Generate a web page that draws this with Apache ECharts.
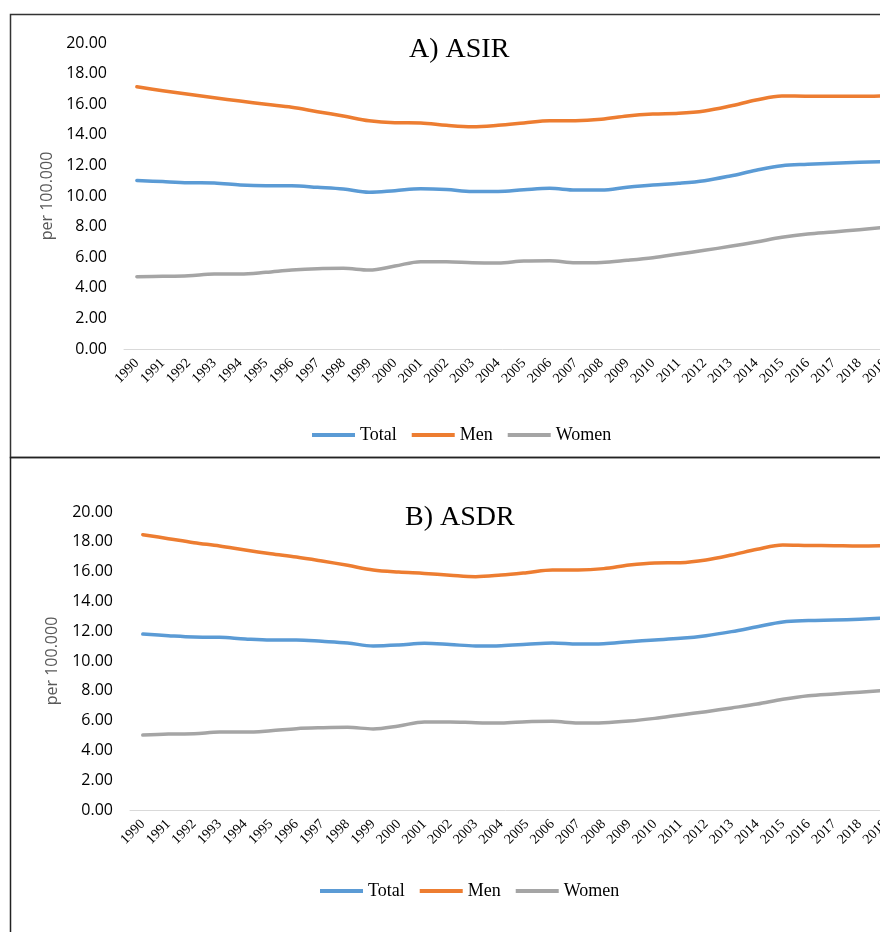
<!DOCTYPE html>
<html><head><meta charset="utf-8">
<script src="https://cdn.jsdelivr.net/npm/echarts@6/dist/echarts.min.js"></script>
<style>html,body{margin:0;padding:0;background:#fff}#c{width:880px;height:932px}</style>
</head><body><div id="c"></div>
<script>
const years = ['1990','1991','1992','1993','1994','1995','1996','1997','1998','1999',
  '2000','2001','2002','2003','2004','2005','2006','2007','2008','2009',
  '2010','2011','2012','2013','2014','2015','2016','2017','2018','2019'];

// A) ASIR
const asirTotal = [11.02,10.94,10.87,10.85,10.72,10.67,10.67,10.57,10.46,10.25,
  10.35,10.47,10.42,10.29,10.30,10.41,10.50,10.39,10.39,10.57,
  10.72,10.83,11.00,11.31,11.68,11.98,12.07,12.14,12.20,12.25];
const asirMen = [17.14,16.88,16.65,16.42,16.21,15.99,15.80,15.51,15.23,14.92,
  14.79,14.77,14.62,14.53,14.62,14.77,14.92,14.92,15.01,15.23,
  15.36,15.41,15.56,15.88,16.27,16.54,16.52,16.52,16.52,16.55];
const asirWomen = [4.73,4.75,4.79,4.90,4.90,5.01,5.16,5.25,5.27,5.16,
  5.42,5.71,5.71,5.64,5.62,5.75,5.77,5.64,5.66,5.80,
  5.97,6.21,6.45,6.71,6.99,7.30,7.52,7.65,7.80,7.95];

// B) ASDR
const asdrTotal = [11.81,11.70,11.61,11.59,11.48,11.41,11.41,11.32,11.21,11.01,
  11.07,11.19,11.11,11.01,11.03,11.12,11.21,11.14,11.16,11.30,
  11.41,11.52,11.70,11.97,12.30,12.62,12.71,12.75,12.80,12.88];
const asdrMen = [18.48,18.21,17.94,17.72,17.45,17.20,16.98,16.71,16.42,16.11,
  15.97,15.88,15.76,15.66,15.77,15.93,16.11,16.11,16.20,16.44,
  16.58,16.60,16.78,17.11,17.50,17.79,17.76,17.74,17.72,17.74];
const asdrWomen = [5.03,5.10,5.12,5.23,5.23,5.32,5.46,5.52,5.55,5.44,
  5.64,5.91,5.91,5.86,5.84,5.93,5.95,5.84,5.86,5.97,
  6.15,6.38,6.60,6.85,7.11,7.43,7.67,7.79,7.90,8.02];

const seriesNames = ['Total','Men','Women'];
const colors = ['#5B9BD5','#ED7D31','#A5A5A5'];
const titles = ['A) ASIR','B) ASDR'];
const yName = 'per 100.000';

const chart = echarts.init(document.getElementById('c'));

function xAxis(gi){
  return {
    type:'category', gridIndex:gi, data:years, boundaryGap:true,
    axisLine:{lineStyle:{color:'#d9d9d9',width:1}},
    axisTick:{show:false},
    axisLabel:{interval:0, rotate:45, margin:12, color:'#000',
      fontFamily:'Liberation Serif', fontSize:14}
  };
}
function yAxis(gi, gap){
  return {
    type:'value', gridIndex:gi, min:0, max:20, interval:2,
    name:yName, nameLocation:'middle', nameGap:gap, nameRotate:90,
    nameTextStyle:{color:'#595959', fontFamily:'Open Sans', fontSize:16},
    axisLine:{show:false}, axisTick:{show:false}, splitLine:{show:false},
    axisLabel:{margin:17, color:'#000', fontFamily:'Open Sans', fontSize:16,
      formatter:v=>v.toFixed(2)}
  };
}
function line(name, data, gi, ci){
  return {
    type:'line', name:name, data:data, xAxisIndex:gi, yAxisIndex:gi,
    smooth:0.35, showSymbol:false, symbol:'none',
    lineStyle:{color:colors[ci], width:3.5, cap:'round', join:'round'},
    itemStyle:{color:colors[ci]}
  };
}
const legendBase = {
  data:seriesNames, icon:'rect', itemWidth:43, itemHeight:4, itemGap:15,
  textStyle:{fontFamily:'Liberation Serif', fontSize:18, color:'#000'},
  selectedMode:false
};

chart.setOption({
  animation:false,
  backgroundColor:'#fff',
  title:[
    {text:titles[0], left:404, top:31, textStyle:{fontFamily:'Liberation Serif', fontSize:28, fontWeight:'normal', color:'#000'}},
    {text:titles[1], left:400, top:499, textStyle:{fontFamily:'Liberation Serif', fontSize:28, fontWeight:'normal', color:'#000'}}
  ],
  legend:[
    Object.assign({left:307, top:421}, legendBase),
    Object.assign({left:315, top:877}, legendBase)
  ],
  grid:[
    {left:124, top:43, width:774, height:306, containLabel:false, outerBoundsMode:'none'},
    {left:130, top:512, width:768, height:298, containLabel:false, outerBoundsMode:'none'}
  ],
  xAxis:[xAxis(0), xAxis(1)],
  yAxis:[yAxis(0,67), yAxis(1,70)],
  series:[
    line(seriesNames[0], asirTotal, 0, 0),
    line(seriesNames[1], asirMen, 0, 1),
    line(seriesNames[2], asirWomen, 0, 2),
    line(seriesNames[0], asdrTotal, 1, 0),
    line(seriesNames[1], asdrMen, 1, 1),
    line(seriesNames[2], asdrWomen, 1, 2)
  ],
  graphic:[
    {type:'rect', silent:true, shape:{x:10.5, y:14.5, width:900, height:443},
      style:{fill:null, stroke:'#333', lineWidth:1.5}},
    {type:'rect', silent:true, shape:{x:10.5, y:457.5, width:900, height:500},
      style:{fill:null, stroke:'#222', lineWidth:1.5}}
  ]
});
</script>
</body></html>
